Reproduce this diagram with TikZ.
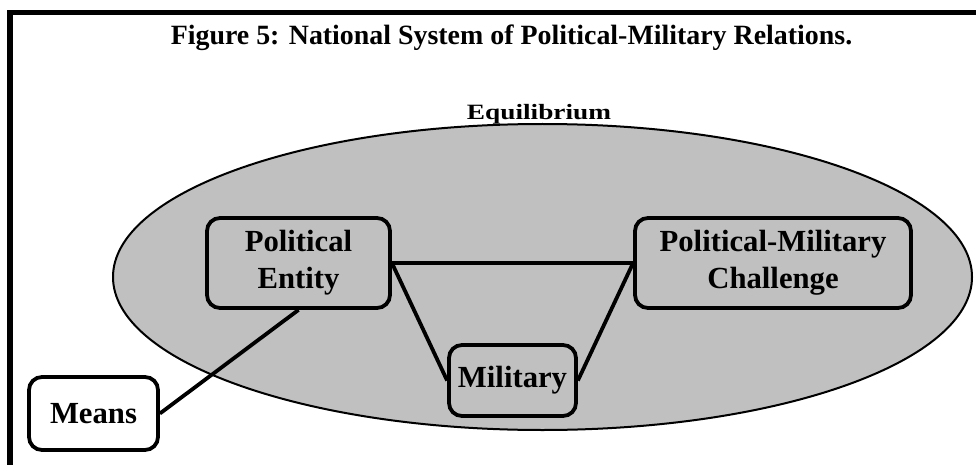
\documentclass[tikz,border=0pt]{standalone}
\usepackage{fontspec}
\setmainfont{Liberation Serif}
\definecolor{ellgray}{HTML}{C0C0C0}
\newcommand\myboxfont{\fontsize{30.7pt}{36.8pt}\selectfont\bfseries}
\newcommand\mytitlefont{\fontsize{27.9pt}{33pt}\selectfont\bfseries}
\newcommand\myeqfont{\fontsize{27.3pt}{33pt}\selectfont\bfseries}
\begin{document}
\begin{tikzpicture}[x=1pt,y=-1pt,
  stagebox/.style={draw=black, line width=3.8pt, rounded corners=13pt, align=center,
    font=\myboxfont, inner sep=0pt, fill=ellgray},
  link/.style={draw=black, line width=3.8pt}]
\useasboundingbox (0,0) rectangle (976,465);
% frame (only top and left edges visible)
\draw[line width=5.5pt, line join=miter] (10,490) -- (10,12.5) -- (1000,12.5);
% title
\node[font=\mytitlefont, anchor=base, inner sep=0pt] (title) at (511.5,45)
  {Figure 5: National System of Political-Military Relations.};
% ellipse
\draw[fill=ellgray, line width=2pt] (542.5,277) ellipse [x radius=429.5, y radius=153];
\node[font=\myeqfont, anchor=base, inner sep=0pt, yscale=0.8] (eq) at (539,119.5) {Equilibrium};
% boxes
\node[stagebox, minimum width=183pt, minimum height=90pt] (pe) at (298.5,263) {Political\\Entity};
\node[stagebox, minimum width=127pt, minimum height=71pt] (mil) at (512.5,380.5) {Military};
\node[stagebox, minimum width=276pt, minimum height=90pt] (pmc) at (773,263) {Political-Military\\Challenge};
\node[stagebox, fill=white, minimum width=129pt, minimum height=73pt] (means) at (93.5,413.5) {Means};
% connectors
\draw[link] (pe.east) -- (pmc.west);
\draw[link] (pe.east) -- (mil.west);
\draw[link] (mil.east) -- (pmc.west);
\draw[link] (means.east) -- (pe.south);
\end{tikzpicture}
\end{document}
